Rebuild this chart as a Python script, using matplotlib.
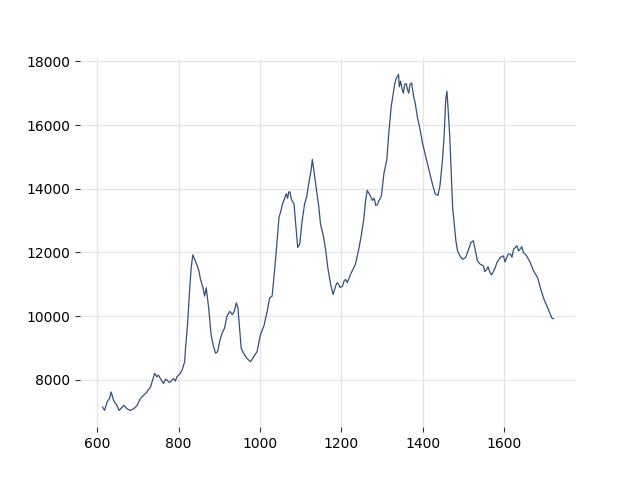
import matplotlib
matplotlib.use("Agg")
import matplotlib.pyplot as plt

wavenumber = [613, 618, 624, 630, 634, 640, 648, 654, 665, 673, 681, 690, 698, 706, 714, 722,
              731, 736, 741, 747, 750, 755, 758, 763, 768, 772, 776, 780, 784, 788, 792, 796,
              804, 809, 815, 817, 822, 827, 831, 835, 841, 846, 850, 854, 860, 864, 868, 874,
              880, 885, 891, 896, 901, 907, 913, 919, 926, 932, 937, 942, 946, 950, 954, 960,
              968, 977, 985, 993, 1001, 1010, 1018, 1024, 1030, 1036, 1041, 1047, 1052, 1055,
              1059, 1062, 1065, 1068, 1071, 1074, 1077, 1080, 1084, 1088, 1093, 1098, 1104, 1110,
              1115, 1120, 1126, 1129, 1137, 1145, 1149, 1156, 1162, 1167, 1174, 1180, 1183, 1186,
              1190, 1194, 1197, 1203, 1207, 1211, 1215, 1223, 1235, 1244, 1250, 1256, 1260, 1264,
              1271, 1277, 1281, 1285, 1289, 1293, 1296, 1299, 1305, 1312, 1317, 1323, 1328, 1332,
              1336, 1341, 1343, 1346, 1350, 1353, 1356, 1360, 1363, 1366, 1369, 1373, 1378, 1382,
              1387, 1394, 1400, 1406, 1412, 1418, 1424, 1431, 1438, 1443, 1449, 1453, 1457, 1460,
              1463, 1467, 1471, 1474, 1478, 1482, 1486, 1492, 1498, 1506, 1512, 1519, 1525, 1530,
              1535, 1542, 1550, 1553, 1558, 1561, 1566, 1570, 1575, 1578, 1583, 1591, 1599, 1603,
              1607, 1611, 1616, 1620, 1624, 1628, 1632, 1636, 1640, 1644, 1648, 1652, 1656, 1665,
              1673, 1683, 1691, 1699, 1708, 1713, 1718, 1722]
intensity = [7146, 7040, 7304, 7408, 7620, 7357, 7199, 7040, 7199, 7092, 7040, 7092, 7199, 7408,
             7515, 7620, 7778, 7990, 8200, 8095, 8150, 8041, 7980, 7883, 8020, 7990, 7920, 7937,
             8000, 8041, 7960, 8095, 8200, 8316, 8570, 8990, 9730, 10785, 11522, 11924, 11734,
             11576, 11418, 11154, 10890, 10627, 10890, 10257, 9414, 9097, 8833, 8886, 9203, 9466,
             9623, 9994, 10152, 10046, 10152, 10415, 10257, 9623, 8990, 8833, 8674, 8570, 8728,
             8886, 9400, 9700, 10152, 10573, 10627, 11418, 12155, 13104, 13316, 13500, 13633,
             13750, 13843, 13700, 13896, 13900, 13686, 13600, 13528, 12896, 12155, 12262, 13000,
             13528, 13737, 14158, 14580, 14921, 14158, 13420, 12896, 12525, 12051, 11522, 10995,
             10680, 10800, 10943, 11050, 10995, 10900, 10943, 11100, 11154, 11050, 11312, 11628,
             12155, 12578, 13104, 13633, 13949, 13791, 13633, 13700, 13475, 13500, 13633, 13700,
             13791, 14477, 14899, 15743, 16585, 17006, 17323, 17481, 17589, 17200, 17377, 17114,
             17000, 17272, 17300, 17114, 17000, 17272, 17323, 16902, 16690, 16270, 15848, 15427,
             15110, 14794, 14477, 14162, 13843, 13791, 14108, 14899, 15637, 16797, 17060, 16481,
             15637, 14372, 13420, 12896, 12367, 12051, 11892, 11786, 11839, 12051, 12313, 12367,
             12051, 11734, 11628, 11576, 11400, 11470, 11550, 11364, 11300, 11418, 11500, 11680,
             11839, 11892, 11700, 11839, 11950, 11945, 11850, 12104, 12150, 12209, 12050, 12104,
             12180, 11997, 11950, 11892, 11680, 11418, 11206, 10836, 10520, 10257, 10100, 9940,
             9920]

fig, ax = plt.subplots(figsize=(6.4, 4.8), dpi=100)
ax.plot(wavenumber, intensity, color="#34507a", linewidth=0.9)
ax.grid(True, color="#e6e6e6", linewidth=1.0)
ax.set_axisbelow(True)
for s in ax.spines.values():
    s.set_visible(False)
ax.tick_params(length=3.5, color="#333333")
fig.savefig("out.png", dpi=100)
